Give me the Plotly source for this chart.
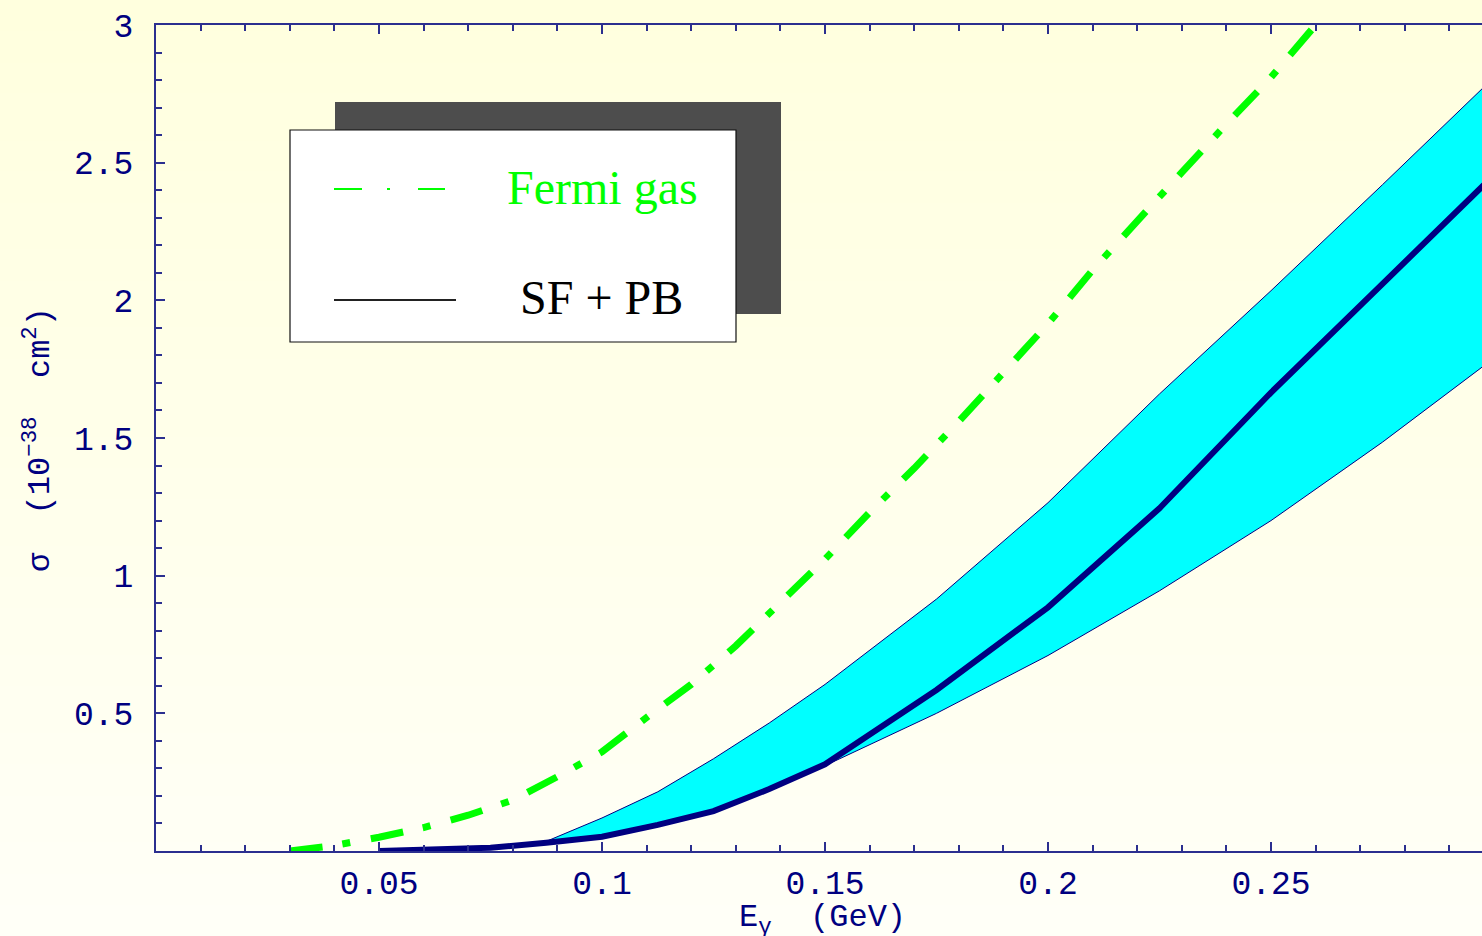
import plotly.graph_objects as go

# Neutrino energy grid (GeV) and cross sections (10^-38 cm^2)
e_fermi = [0.03, 0.04, 0.05, 0.06, 0.07, 0.08, 0.09, 0.10, 0.11, 0.12, 0.13,
           0.14, 0.15, 0.16, 0.17, 0.18, 0.19, 0.20, 0.21, 0.22, 0.23, 0.24,
           0.25, 0.26]
sigma_fermi = [0.0, 0.02, 0.05, 0.085, 0.13, 0.185, 0.27, 0.36, 0.485, 0.605,
               0.745, 0.90, 1.06, 1.23, 1.39, 1.56, 1.74, 1.915, 2.11, 2.29,
               2.465, 2.64, 2.81, 3.0]

e_sf = [0.05, 0.0625, 0.075, 0.0875, 0.1, 0.1125, 0.125, 0.1375, 0.15, 0.175,
        0.2, 0.225, 0.25, 0.275, 0.3]
sigma_sf = [0.0, 0.004, 0.012, 0.03, 0.052, 0.095, 0.145, 0.225, 0.315, 0.585,
            0.885, 1.245, 1.665, 2.06, 2.455]
sigma_sf_hi = [0.0, 0.004, 0.012, 0.035, 0.12, 0.215, 0.335, 0.465, 0.605,
               0.915, 1.265, 1.66, 2.035, 2.42, 2.81]
sigma_sf_lo = [0.0, 0.004, 0.012, 0.028, 0.048, 0.09, 0.14, 0.22, 0.31, 0.50,
               0.71, 0.945, 1.20, 1.485, 1.79]

x_ticks = [0.05, 0.1, 0.15, 0.2, 0.25]
x_tick_text = ["0.05", "0.1", "0.15", "0.2", "0.25"]
y_ticks = [0.5, 1, 1.5, 2, 2.5, 3]
y_tick_text = ["0.5", "1", "1.5", "2", "2.5", "3"]

legend_labels = ["Fermi gas", "SF + PB"]

W, H = 1482, 936
ML, MR, MT, MB = 156, 0, 25, 85
PW, PH = W - ML - MR, H - MT - MB

NAVY = "#000080"
AXIS = "#2b2f8f"
GREEN = "#00ff00"
CYAN = "#00ffff"


def px(x):
    return (x - ML) / PW


def py(y):
    return (H - MB - y) / PH


fig = go.Figure()

fig.add_trace(go.Scatter(x=e_sf, y=sigma_sf_lo, mode="lines",
                         line=dict(color=NAVY, width=1), showlegend=False))
fig.add_trace(go.Scatter(x=e_sf, y=sigma_sf_hi, mode="lines",
                         line=dict(color=NAVY, width=1), fill="tonexty",
                         fillcolor=CYAN, showlegend=False))
fig.add_trace(go.Scatter(x=e_sf, y=sigma_sf, mode="lines",
                         line=dict(color=NAVY, width=6), showlegend=False))
fig.add_trace(go.Scatter(x=e_fermi, y=sigma_fermi, mode="lines",
                         line=dict(color=GREEN, width=7,
                                   dash="33px,20px,8px,21px"),
                         showlegend=False))

shapes = []
# soft vertical background gradient: pale yellow at top fading to near white
n_strips = 60
top_rgb = (255, 255, 222)
bot_rgb = (255, 255, 247)
for i in range(n_strips):
    t = i / (n_strips - 1)
    c = tuple(round(a + (b - a) * t) for a, b in zip(top_rgb, bot_rgb))
    y0 = H * i / n_strips
    y1 = H * (i + 1) / n_strips + 1
    shapes.append(dict(type="rect", xref="paper", yref="paper", layer="below",
                       x0=px(0), x1=px(W), y0=py(y1), y1=py(y0),
                       line=dict(width=0), fillcolor="rgb(%d,%d,%d)" % c))

# legend box with drop shadow
shapes.append(dict(type="rect", xref="paper", yref="paper", layer="above",
                   x0=px(335), x1=px(781), y0=py(314), y1=py(102),
                   line=dict(width=0), fillcolor="#4d4d4d"))
shapes.append(dict(type="rect", xref="paper", yref="paper", layer="above",
                   x0=px(290), x1=px(736), y0=py(342), y1=py(130),
                   line=dict(width=1.2, color="#111111"), fillcolor="white"))
# legend samples
for a, b in [(334, 362), (387, 390), (418, 445)]:
    shapes.append(dict(type="line", xref="paper", yref="paper", layer="above",
                       x0=px(a), x1=px(b), y0=py(189), y1=py(189),
                       line=dict(color=GREEN, width=2)))
shapes.append(dict(type="line", xref="paper", yref="paper", layer="above",
                   x0=px(334), x1=px(456), y0=py(300), y1=py(300),
                   line=dict(color="#222222", width=2)))

annotations = [
    dict(text=legend_labels[0], xref="paper", yref="paper", x=px(602),
         y=py(187), xanchor="center", yanchor="middle", showarrow=False,
         font=dict(family="Liberation Serif", size=48, color=GREEN)),
    dict(text=legend_labels[1], xref="paper", yref="paper", x=px(601),
         y=py(297), xanchor="center", yanchor="middle", showarrow=False,
         font=dict(family="Liberation Serif", size=48, color="black")),
    dict(text="E<sub>γ</sub>\u00a0\u00a0(GeV)", xref="paper", yref="paper",
         x=px(822), y=py(919), xanchor="center", yanchor="middle",
         showarrow=False,
         font=dict(family="Liberation Mono", size=32, color=NAVY)),
    dict(text="σ\u00a0\u00a0(10<sup>−38</sup>\u00a0\u00a0cm<sup>2</sup>)",
         xref="paper", yref="paper", x=px(38), y=py(440), textangle=-90,
         xanchor="center", yanchor="middle", showarrow=False,
         font=dict(family="Liberation Mono", size=32, color=NAVY)),
]

tick_font = dict(family="Liberation Mono", size=33, color=NAVY)

fig.update_layout(
    width=W, height=H,
    margin=dict(l=ML, r=MR, t=MT, b=MB, pad=0),
    paper_bgcolor="rgb(255,255,235)",
    plot_bgcolor="rgba(0,0,0,0)",
    shapes=shapes,
    annotations=annotations,
    showlegend=False,
    xaxis=dict(range=[0, PW / 4460], showgrid=False, zeroline=False,
               showline=True, linecolor=AXIS, linewidth=2, mirror="ticks",
               ticks="inside", ticklen=9, tickwidth=1.5, tickcolor=AXIS,
               tickmode="array", tickvals=x_ticks, ticktext=x_tick_text,
               tickfont=tick_font, ticklabelstandoff=1,
               minor=dict(ticks="inside", ticklen=6, tickwidth=1.5,
                          tickcolor=AXIS, dtick=0.01, tick0=0,
                          showgrid=False)),
    yaxis=dict(range=[0, 3], showgrid=False, zeroline=False,
               showline=True, linecolor=AXIS, linewidth=2,
               ticks="inside", ticklen=9, tickwidth=1.5, tickcolor=AXIS,
               tickmode="array", tickvals=y_ticks, ticktext=y_tick_text,
               tickfont=tick_font, ticklabelstandoff=14,
               minor=dict(ticks="inside", ticklen=6, tickwidth=1.5,
                          tickcolor=AXIS, dtick=0.1, tick0=0,
                          showgrid=False)),
)

fig.write_html("out.html")
